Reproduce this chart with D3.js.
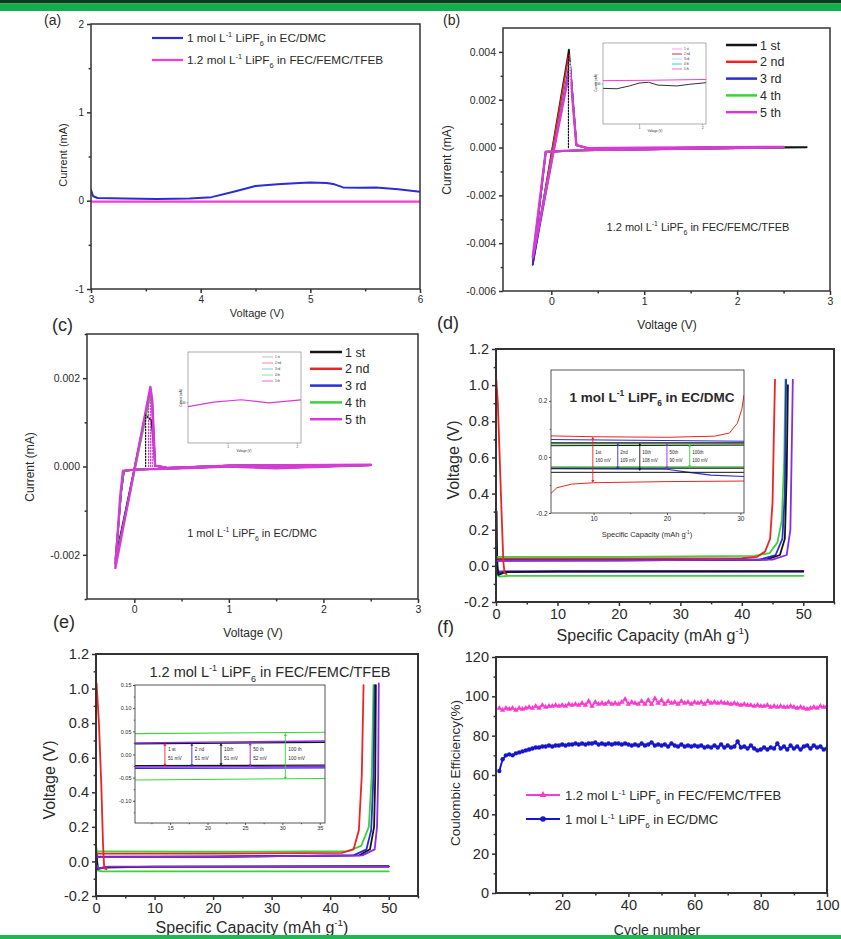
<!DOCTYPE html>
<html><head><meta charset="utf-8">
<script src="https://cdn.jsdelivr.net/npm/d3@7"></script>
<style>
body{margin:0;background:#fff}
svg{display:block}
text{font-family:"Liberation Sans",Arial,sans-serif;fill:#2a2a2a;white-space:pre}
</style>
</head><body>
<svg id="c" width="841" height="939"></svg>
<script>
// ---------------- DATA ----------------
// (a) linear sweep
const aSeriesNames = ["1 mol L^{-1} LiPF_{6} in EC/DMC", "1.2 mol L^{-1} LiPF_{6} in FEC/FEMC/TFEB"];
const aEC = [[3.0,0.12],[3.02,0.05],[3.06,0.03],[3.3,0.025],[3.6,0.02],[3.9,0.025],[4.1,0.04],[4.3,0.1],[4.5,0.165],[4.7,0.185],[4.9,0.2],[5.0,0.205],[5.15,0.2],[5.22,0.185],[5.3,0.15],[5.45,0.145],[5.6,0.15],[5.8,0.13],[6.0,0.1]];
const aFEC = [[3.0,-0.01],[4.5,-0.01],[6.0,-0.01]];

// (b) CV 1.2 M FEC/FEMC/TFEB
const cycleNames = ["1 st","2 nd","3 rd","4 th","5 th"];
const bCycle1 = [[2.75,0.00001],[2.0,-0.00003],[1.0,-0.00008],[0.3,-0.00012],[-0.06,-0.00018],[-0.2,-0.0049],[0.19,0.0041],[0.27,0.0001],[0.4,-0.00004],[1.0,-0.00002],[2.0,0.00001],[2.75,0.00002]];
const bCycle2 = [[2.5,0.00001],[2.0,-0.00003],[1.0,-0.00008],[0.3,-0.00012],[-0.06,-0.00018],[-0.2,-0.0048],[0.19,0.0039],[0.27,0.0001],[0.4,-0.00004],[1.0,-0.00002],[2.5,0.00002]];
const bCycle3 = [[2.5,0.00001],[2.0,-0.00003],[1.0,-0.00008],[0.3,-0.00012],[-0.06,-0.00018],[-0.2,-0.0049],[0.2,0.0036],[0.27,0.0001],[0.4,-0.00004],[1.0,-0.00002],[2.5,0.00002]];
const bCycle4 = [[2.5,0.00001],[2.0,-0.00003],[1.0,-0.00008],[0.3,-0.00012],[-0.06,-0.00018],[-0.2,-0.0046],[0.2,0.0034],[0.27,0.0001],[0.4,-0.00004],[1.0,-0.00002],[2.5,0.00002]];
const bCycle5 = [[2.5,0.00002],[2.0,-0.00002],[1.0,-0.00007],[0.3,-0.00011],[-0.06,-0.00017],[-0.2,-0.0046],[0.2,0.0033],[0.27,0.0001],[0.4,-0.00003],[1.0,-0.00001],[2.5,0.00003]];
const bPeakV = [0.185, 0.2];
const bPeakI = [0.0041, 0.0036];
// (b) inset
const bInsetPink = [[0.43,0.00007],[1.2,0.00008],[2.06,0.0001]];
const bInsetDark = [[0.43,-0.00012],[0.65,-0.00013],[0.85,-0.00006],[1.0,0.00001],[1.15,0.00003],[1.3,-0.00004],[1.6,-0.00006],[1.8,-0.00002],[2.06,0.00002]];

// (c) CV 1 M EC/DMC
const cCycle1 = [[2.5,0.00003],[1.5,-0.00002],[1.0,0.0],[0.5,-0.00004],[0.0,-0.00007],[-0.11,-0.0001],[-0.14,-0.0006],[-0.2,-0.0021],[0.12,0.00117],[0.15,0.0011],[0.18,0.00105],[0.2,0.0006],[0.22,0.00002],[0.35,-0.00003],[1.0,0.00002],[2.5,0.00004]];
const cCycle2 = [[2.5,0.00003],[1.5,-0.00003],[1.0,0.0],[0.5,-0.00004],[0.0,-0.00007],[-0.11,-0.0001],[-0.14,-0.0006],[-0.2,-0.0022],[0.17,0.0017],[0.19,0.0014],[0.22,0.00002],[0.35,-0.00003],[1.0,0.00002],[2.5,0.00004]];
const cCycle3 = [[2.5,0.00003],[1.5,-0.00003],[1.0,0.0],[0.5,-0.00004],[0.0,-0.00007],[-0.11,-0.0001],[-0.14,-0.0006],[-0.2,-0.0022],[0.17,0.00175],[0.19,0.0014],[0.22,0.00002],[0.35,-0.00003],[1.0,0.00002],[2.5,0.00004]];
const cCycle4 = [[2.5,0.00003],[1.5,-0.00003],[1.0,0.0],[0.5,-0.00004],[0.0,-0.00007],[-0.11,-0.0001],[-0.14,-0.0006],[-0.2,-0.0022],[0.17,0.0016],[0.19,0.0013],[0.22,0.00002],[0.35,-0.00003],[1.0,0.00002],[2.5,0.00004]];
const cCycle5 = [[2.5,0.00003],[1.5,-0.00004],[1.0,0.0],[0.5,-0.00004],[0.0,-0.00007],[-0.12,-0.0001],[-0.15,-0.0007],[-0.2,-0.0023],[0.17,0.0018],[0.19,0.0015],[0.22,0.00002],[0.35,-0.00003],[1.0,0.00002],[2.5,0.00004]];
const cPeakV = [0.12, 0.15, 0.17, 0.19];
const cPeakI = [0.00117, 0.0016, 0.0018, 0.0015];
// (c) inset
const cInsetPink = [[0.43,-0.0001],[0.8,0.0],[1.2,0.00005],[1.6,-0.00002],[2.06,0.00005]];

// (d) plating/stripping 1 M EC/DMC (main)
const dRedFirst = [[0.05,1.03],[0.3,0.9],[0.6,0.6],[0.9,0.3],[1.2,0.02],[1.4,-0.04],[1.7,-0.045]];
const dPlateBlack = [[0.1,0.3],[0.2,0.0],[0.4,-0.05],[1.5,-0.035],[10,-0.03],[50,-0.03]];
const dPlateBlue = [[0.1,0.1],[0.3,-0.04],[1.5,-0.033],[50,-0.032]];
const dPlatePurple = [[0.2,-0.03],[50,-0.028]];
const dPlateGreen = [[0,-0.04],[0.5,-0.06],[2,-0.055],[50,-0.055]];
const dStripRed = [[0,0.04],[20,0.04],[40,0.042],[42.5,0.05],[43.8,0.08],[44.6,0.15],[45.0,0.35],[45.2,0.7],[45.4,1.03]];
const dStripGreen = [[0,0.05],[20,0.05],[42,0.055],[44.5,0.07],[45.8,0.13],[46.5,0.25],[46.9,0.6],[47.1,1.03]];
const dStripBlue = [[0,0.03],[20,0.03],[43,0.035],[45.5,0.06],[46.6,0.15],[47.0,0.4],[47.2,1.03]];
const dStripBlack = [[0,0.03],[20,0.03],[44,0.035],[46.2,0.06],[47.0,0.15],[47.3,0.5],[47.5,1.0]];
const dStripPurple = [[0,0.028],[20,0.03],[45,0.035],[47.3,0.06],[47.9,0.2],[48.1,0.6],[48.3,1.03]];
// (d) inset
const dInRedUp = [[4.2,0.075],[10,0.072],[20,0.07],[26.5,0.074],[28.5,0.085],[29.6,0.12],[30.2,0.17],[30.5,0.22]];
const dInRedLow = [[4.2,-0.13],[5,-0.11],[7,-0.097],[10,-0.092],[20,-0.088],[30.5,-0.086]];
const dInBlackUp1 = [[4.2,0.05],[30.5,0.05]];
const dInBlackUp2 = [[4.2,0.04],[30.5,0.042]];
const dInBlueUp = [[4.2,0.062],[30.5,0.056]];
const dInGreenUp = [[4.2,0.046],[30.5,0.046]];
const dInBlackLow1 = [[4.2,-0.04],[30.5,-0.04]];
const dInBlackLow2 = [[4.2,-0.055],[30.5,-0.055]];
const dInBlueLow = [[4.2,-0.042],[20,-0.044],[23,-0.055],[26,-0.065],[30.5,-0.07]];
const dInGreenLow = [[4.2,-0.035],[30.5,-0.035]];
const dArrowCap = [9.9, 13.3, 16.3, 20.0, 23.1];
const dArrowTop = [0.072, 0.05, 0.05, 0.05, 0.046];
const dArrowBot = [-0.092, -0.045, -0.05, -0.045, -0.04];
const dArrowLab1 = ["1st","2nd","10th","50th","100th"];
const dArrowLab2 = ["160 mV","109 mV","108 mV","90 mV","100 mV"];

// (e) plating/stripping 1.2 M FEC/FEMC/TFEB (main)
const eRedFirst = [[0.1,1.03],[0.5,0.8],[0.9,0.45],[1.2,0.1],[1.4,-0.04],[1.8,-0.045]];
const ePlateBlack = [[0,0.05],[0.3,-0.04],[1.5,-0.035],[10,-0.03],[50,-0.028]];
const ePlateBlue = [[0,0.1],[0.3,-0.045],[2,-0.032],[50,-0.03]];
const ePlatePurple = [[0,-0.02],[0.5,-0.04],[2,-0.03],[50,-0.03]];
const ePlateGreen = [[0,-0.05],[1,-0.058],[50,-0.058]];
const eStripRed = [[0,0.045],[20,0.045],[42,0.05],[44,0.07],[44.9,0.18],[45.4,0.5],[45.7,1.02]];
const eStripGreen = [[0,0.058],[20,0.056],[43,0.06],[45.3,0.09],[46.6,0.2],[47.1,0.5],[47.4,1.02]];
const eStripBlue = [[0,0.028],[20,0.028],[44,0.035],[46.2,0.07],[47.0,0.18],[47.4,0.5],[47.6,1.02]];
const eStripBlack = [[0,0.026],[20,0.027],[45,0.035],[46.8,0.07],[47.5,0.2],[47.7,0.5],[47.8,1.02]];
const eStripPurple = [[0,0.025],[20,0.027],[45.5,0.035],[47.6,0.07],[48.0,0.2],[48.2,0.5],[48.3,1.03]];
// (e) inset
const eInGreenUp = [[10.3,0.045],[35.7,0.048]];
const eInGreenLow = [[10.3,-0.055],[35.7,-0.052]];
const eInPurpleUp = [[10.3,0.025],[35.7,0.029]];
const eInBlackUp = [[10.3,0.023],[35.7,0.026]];
const eInPurpleLow = [[10.3,-0.027],[35.7,-0.026]];
const eInBlueLow = [[10.3,-0.03],[35.7,-0.029]];
const eInBlackLow = [[10.3,-0.024],[35.7,-0.023]];
const eArrowCap = [14.3, 17.9, 21.8, 25.7, 30.4];
const eArrowTop = [0.025, 0.025, 0.025, 0.026, 0.046];
const eArrowBot = [-0.026, -0.027, -0.025, -0.027, -0.054];
const eArrowLab1 = ["1 st","2 nd","10th","50 th","100 th"];
const eArrowLab2 = ["51 mV","51 mV","51 mV","52 mV","100 mV"];

// (f) coulombic efficiency
const fCycles = d3.range(1, 101);
const fFEC = [94,93,94,93.5,94,93,94,93.5,94,94.5,94,95,94,95.5,94.5,95,95,95.5,95,95.5,
  95,96,95.5,96,95.5,96.5,95.5,97.5,95,97,96,96.5,96,97,96,96.5,96,97,98.5,96,
  97,96.5,96,97.5,96,98,96,99,96.5,98,96,97.5,96.5,97,96,97.5,96.5,97,96,97,
  96.5,97,96,97.5,96.5,97,96.5,97,96.5,96.5,96,96.5,96,95.5,96,95.5,95.5,95,95.5,95,
  95,95.5,94.5,95,94.5,95,94.5,94.5,95,94.5,94,94.5,94,93.5,94,94.5,94,95,94.5,95];
const fEC = [62,68,70,70.5,70,71,71.5,72,72.5,73,73.5,74,74,74.5,74.5,75,74.5,75,75,75.5,
  75,75.5,75.5,76,75.5,76,75.5,76,76,76.5,75.5,76,75.5,76,75.5,76,76,75.5,76,75.5,
  75,75.5,75,76,75,75.5,76.5,75,75.5,75,75.5,74.5,76,75,74.5,75.5,74.5,75,74.5,75,
  74.5,75,74,74.5,74,75,74,75.5,74,75,74,74.5,77,74,74.5,73.5,75,73.5,72.5,73,
  74,73,74,73.5,76,73.5,74.5,73,75,73.5,74.5,73,74.5,75,73.5,75,74,74.5,73,73.5];

// ---------------- COLOURS ----------------
const cBlack="#151515", cRed="#ec2424", cBlue="#2b2bd8", cGreen="#3ad43a", cMag="#d63bd6", cPurple="#8b2be8", cPink="#ff38d2", cBlueF="#1616cc";
const cycleColors=[cBlack,cRed,cBlue,cGreen,cMag];

// ---------------- HELPERS ----------------
const svg=d3.select('#c');
const defs=svg.append('defs');
let clipN=0;
const fmtInt=d=>String(d);
function rich(sel,str,fs){
  const parts=str.split(/(\^\{[^}]*\}|_\{[^}]*\})/).filter(s=>s.length);
  let off=0;
  parts.forEach(s=>{
    let type='n',txt=s;
    if(s.startsWith('^{')){type='sup';txt=s.slice(2,-1);}
    else if(s.startsWith('_{')){type='sub';txt=s.slice(2,-1);}
    const target=type==='sup'?-fs*0.42:type==='sub'?fs*0.32:0;
    const t=sel.append('tspan').text(txt).attr('dy',(target-off).toFixed(2));
    if(type!=='n') t.attr('font-size',(fs*0.62).toFixed(2));
    off=target;
  });
  return sel;
}
function label(x,y,str,fs,opt={}){
  const t=svg.append('text').attr('x',x).attr('y',y).attr('font-size',fs)
    .attr('text-anchor',opt.anchor||'start');
  if(opt.rot) t.attr('transform',`rotate(-90,${x},${y})`);
  if(opt.weight) t.attr('font-weight',opt.weight);
  if(opt.fill) t.attr('fill',opt.fill);
  rich(t,str,fs);
  return t;
}
function panel(o){
  const x=d3.scaleLinear().domain(o.xd).range([o.x0,o.x1]);
  const y=d3.scaleLinear().domain(o.yd).range([o.y1,o.y0]);
  const g=svg.append('g');
  if(o.bg) g.append('rect').attr('x',o.x0).attr('y',o.y0).attr('width',o.x1-o.x0).attr('height',o.y1-o.y0).attr('fill','#fff');
  const id='clip'+(clipN++);
  defs.append('clipPath').attr('id',id).append('rect').attr('x',o.x0).attr('y',o.y0).attr('width',o.x1-o.x0).attr('height',o.y1-o.y0);
  const plot=g.append('g').attr('clip-path',`url(#${id})`);
  const ax=g.append('g');
  const ts=o.ts||4, sw=o.sw||1.5, fs=o.fs||11, col=o.col||'#333';
  function style(a){
    a.select('.domain').remove();
    a.selectAll('line').attr('stroke',col).attr('stroke-width',sw);
    a.selectAll('text').attr('font-size',fs).attr('fill','#2a2a2a').style('font-family','"Liberation Sans",Arial,sans-serif');
  }
  if(o.xt) style(ax.append('g').attr('transform',`translate(0,${o.y1})`).call(d3.axisBottom(x).tickValues(o.xt).tickFormat(o.xf||fmtInt).tickSize(ts).tickSizeOuter(0).tickPadding(o.tp||3)));
  if(o.xm) style(ax.append('g').attr('transform',`translate(0,${o.y1})`).call(d3.axisBottom(x).tickValues(o.xm).tickFormat(()=>'').tickSize(ts*0.6).tickSizeOuter(0)));
  if(o.yt) style(ax.append('g').attr('transform',`translate(${o.x0},0)`).call(d3.axisLeft(y).tickValues(o.yt).tickFormat(o.yf||fmtInt).tickSize(ts).tickSizeOuter(0).tickPadding(o.tp||3)));
  if(o.ym) style(ax.append('g').attr('transform',`translate(${o.x0},0)`).call(d3.axisLeft(y).tickValues(o.ym).tickFormat(()=>'').tickSize(ts*0.6).tickSizeOuter(0)));
  g.append('rect').attr('x',o.x0).attr('y',o.y0).attr('width',o.x1-o.x0).attr('height',o.y1-o.y0)
    .attr('fill','none').attr('stroke',col).attr('stroke-width',o.fw||sw);
  return {x,y,plot,g};
}
function drawLine(P,data,color,w,dash){
  const line=d3.line().x(d=>P.x(d[0])).y(d=>P.y(d[1]));
  const p=P.plot.append('path').datum(data).attr('d',line).attr('fill','none')
    .attr('stroke',color).attr('stroke-width',w||1.5).attr('stroke-linejoin','round').attr('stroke-linecap','round');
  if(dash) p.attr('stroke-dasharray',dash);
  return p;
}
function arrow(P,xv,y1v,y2v,color){
  const X=P.x(xv), A=P.y(y1v), B=P.y(y2v), h=2.2;
  P.g.append('line').attr('x1',X).attr('x2',X).attr('y1',A+h).attr('y2',B-h).attr('stroke',color).attr('stroke-width',0.9);
  P.g.append('path').attr('d',`M${X},${A}l-1.6,${h+0.6}h3.2z`).attr('fill',color);
  P.g.append('path').attr('d',`M${X},${B}l-1.6,${-h-0.6}h3.2z`).attr('fill',color);
}
const f3=d=>d.toFixed(3), f1=d=>d.toFixed(1), f2=d=>d.toFixed(2);

// ---------------- PANEL (a) ----------------
{
  const P=panel({x0:91,x1:420,y0:24,y1:289,xd:[3,6],yd:[-1,2],xt:[3,4,5,6],xm:[3.5,4.5,5.5],yt:[-1,0,1,2],ym:[-0.5,0.5,1.5],fs:10,ts:4});
  drawLine(P,aFEC,cPink,2.2);
  drawLine(P,aEC,cBlue,2);
  [cBlue,cPink].forEach((c,i)=>{
    svg.append('line').attr('x1',152).attr('x2',183).attr('y1',38+i*22).attr('y2',38+i*22).attr('stroke',c).attr('stroke-width',2.2);
    label(187,42+i*22,aSeriesNames[i],11.8);
  });
  label(257,317,"Voltage (V)",11,{anchor:'middle'});
  label(67,155,"Current (mA)",11,{anchor:'middle',rot:true});
}

// ---------------- PANEL (b) ----------------
{
  const P=panel({x0:503,x1:830,y0:28,y1:291,xd:[-0.52,3],yd:[-0.006,0.005],xt:[0,1,2,3],xm:[0.5,1.5,2.5],
    yt:[-0.006,-0.004,-0.002,0,0.002,0.004],ym:[-0.005,-0.003,-0.001,0.001,0.003],yf:f3,fs:10.5,ts:4});
  [bCycle1,bCycle2,bCycle3,bCycle4,bCycle5].forEach((d,i)=>drawLine(P,d,cycleColors[i],i===4?2.4:1.7));
  bPeakV.forEach((v,i)=>drawLine(P,[[v,0],[v,bPeakI[i]]],i===0?cBlack:'#fff',1.3,'1.5,1.5'));
  cycleNames.forEach((n,i)=>{
    const yy=45+i*16.8;
    svg.append('line').attr('x1',726).attr('x2',757).attr('y1',yy).attr('y2',yy).attr('stroke',cycleColors[i]).attr('stroke-width',2.5);
    label(760,yy+4.5,n,12.5);
  });
  label(698,231,"1.2 mol L^{-1} LiPF_{6} in FEC/FEMC/TFEB",11,{anchor:'middle'});
  label(667,329,"Voltage (V)",12,{anchor:'middle'});
  label(451,160,"Current (mA)",12,{anchor:'middle',rot:true});
  // inset
  const I=panel({x0:603,x1:706,y0:43,y1:124,xd:[0.43,2.06],yd:[-0.001,0.001],xt:[1,2],yt:[0],yf:f2,fs:3,ts:1.5,sw:0.6,col:'#777',tp:1,bg:true});
  drawLine(I,bInsetDark,'#333',1);
  drawLine(I,bInsetPink,cPink,1);
  ["#ff8cd8","#8a1030","#9ad0ff","#00c8c8","#ff40c0"].forEach((c,i)=>{
    const yy=49+i*5;
    svg.append('line').attr('x1',672).attr('x2',682).attr('y1',yy).attr('y2',yy).attr('stroke',c).attr('stroke-width',0.8);
    label(684,yy+1,cycleNames[i],3);
  });
  label(655,132,"Voltage (V)",3,{anchor:'middle'});
  label(597,83,"Current (mA)",3,{anchor:'middle',rot:true});
}

// ---------------- PANEL (c) ----------------
{
  const P=panel({x0:87,x1:418,y0:334,y1:599,xd:[-0.5,3],yd:[-0.003,0.003],xt:[0,1,2,3],xm:[0.5,1.5,2.5],
    yt:[-0.002,0,0.002],ym:[-0.003,-0.001,0.001,0.003],yf:f3,fs:10.5,ts:4});
  [cCycle1,cCycle2,cCycle3,cCycle4,cCycle5].forEach((d,i)=>drawLine(P,d,cycleColors[i],i===4?2.4:1.7));
  cPeakV.forEach((v,i)=>drawLine(P,[[v,0],[v,cPeakI[i]]],i===0?cBlack:cMag,1.2,'1.5,1.5'));
  cycleNames.forEach((n,i)=>{
    const yy=352+i*16.8;
    svg.append('line').attr('x1',310).attr('x2',342).attr('y1',yy).attr('y2',yy).attr('stroke',cycleColors[i]).attr('stroke-width',2.5);
    label(345,yy+4.5,n,12.5);
  });
  label(252,537,"1 mol L^{-1} LiPF_{6} in EC/DMC",11,{anchor:'middle'});
  label(253,637,"Voltage (V)",12,{anchor:'middle'});
  label(34,467,"Current (mA)",12,{anchor:'middle',rot:true});
  // inset
  const I=panel({x0:188,x1:301,y0:352,y1:443,xd:[0.43,2.06],yd:[-0.0009,0.0011],xt:[1,2],yt:[0],yf:f2,fs:3,ts:1.5,sw:0.6,col:'#777',tp:1,bg:true});
  drawLine(I,cInsetPink,cMag,1.2);
  ["#b0b0b0","#ff60a0","#60c0c0","#70e070","#e040e0"].forEach((c,i)=>{
    const yy=357+i*6;
    svg.append('line').attr('x1',262).attr('x2',273).attr('y1',yy).attr('y2',yy).attr('stroke',c).attr('stroke-width',0.8);
    label(275,yy+1,cycleNames[i],3);
  });
  label(244,452,"Voltage (V)",3,{anchor:'middle'});
  label(182,398,"Current (mA)",3,{anchor:'middle',rot:true});
}

// ---------------- PANEL (d) ----------------
{
  const P=panel({x0:496,x1:834,y0:349,y1:602,xd:[0,55],yd:[-0.2,1.2],xt:[0,10,20,30,40,50],xm:[5,15,25,35,45,55],
    yt:[-0.2,0,0.2,0.4,0.6,0.8,1.0,1.2],ym:[-0.1,0.1,0.3,0.5,0.7,0.9,1.1],yf:f1,fs:14.5,ts:4,tp:3,fw:2});
  drawLine(P,dPlateGreen,cGreen,1.8);
  drawLine(P,dPlatePurple,cPurple,1.8);
  drawLine(P,dPlateBlue,cBlue,1.8);
  drawLine(P,dPlateBlack,cBlack,1.8);
  drawLine(P,dStripGreen,cGreen,1.8);
  drawLine(P,dStripRed,cRed,1.8);
  drawLine(P,dStripBlue,cBlue,1.8);
  drawLine(P,dStripBlack,cBlack,1.8);
  drawLine(P,dStripPurple,cPurple,1.8);
  drawLine(P,dRedFirst,cRed,1.8);
  label(653,641,"Specific Capacity (mAh g^{-1})",16,{anchor:'middle'});
  label(459,460,"Voltage (V)",16,{anchor:'middle',rot:true});
  // inset
  const I=panel({x0:551,x1:744,y0:370,y1:513,xd:[4.2,30.5],yd:[-0.2,0.31],xt:[10,20,30],xm:[15,25],yt:[-0.2,0,0.2],ym:[-0.1,0.1],yf:f1,fs:6.5,ts:2,sw:0.9,col:'#444',tp:1.5,bg:true});
  drawLine(I,dInRedUp,cRed,1);
  drawLine(I,dInRedLow,cRed,1);
  drawLine(I,dInGreenUp,cGreen,1);
  drawLine(I,dInGreenLow,cGreen,1);
  drawLine(I,dInBlueUp,cBlue,1);
  drawLine(I,dInBlackUp1,cBlack,1.3);
  drawLine(I,dInBlackUp2,cBlack,1);
  drawLine(I,dInBlueLow,cBlue,1.1);
  drawLine(I,dInBlackLow1,cBlack,1.3);
  drawLine(I,dInBlackLow2,cBlack,1);
  const dArrowCol=[cRed,cBlue,cBlack,cPurple,cGreen];
  dArrowCap.forEach((c,i)=>{
    arrow(I,c,dArrowTop[i],dArrowBot[i],dArrowCol[i]);
    const X=I.x(c)+2.5;
    label(X,454,dArrowLab1[i],4.5,{fill:dArrowCol[i]});
    label(X,462,dArrowLab2[i],4.5,{fill:dArrowCol[i]});
  });
  label(652,402,"1 mol L^{-1} LiPF_{6} in EC/DMC",13.5,{anchor:'middle',weight:'bold',fill:'#1a1a1a'});
  label(647,537,"Specific Capacity (mAh g^{-1})",7.5,{anchor:'middle'});
}

// ---------------- PANEL (e) ----------------
{
  const P=panel({x0:96,x1:418,y0:654,y1:896,xd:[0,55],yd:[-0.2,1.2],xt:[0,10,20,30,40,50],xm:[5,15,25,35,45,55],
    yt:[-0.2,0,0.2,0.4,0.6,0.8,1.0,1.2],ym:[-0.1,0.1,0.3,0.5,0.7,0.9,1.1],yf:f1,fs:14.5,ts:4,tp:3,fw:2});
  drawLine(P,ePlateGreen,cGreen,1.8);
  drawLine(P,ePlateBlue,cBlue,1.8);
  drawLine(P,ePlateBlack,cBlack,1.8);
  drawLine(P,ePlatePurple,cPurple,1.8);
  drawLine(P,eStripGreen,cGreen,1.8);
  drawLine(P,eStripRed,cRed,1.8);
  drawLine(P,eStripBlue,cBlue,1.8);
  drawLine(P,eStripBlack,cBlack,1.8);
  drawLine(P,eStripPurple,cPurple,1.8);
  drawLine(P,eRedFirst,cRed,1.8);
  label(270,677,"1.2 mol L^{-1} LiPF_{6} in FEC/FEMC/TFEB",14.5,{anchor:'middle',fill:'#1a1a1a'});
  label(252,933,"Specific Capacity (mAh g^{-1})",16,{anchor:'middle'});
  label(55,780,"Voltage (V)",16,{anchor:'middle',rot:true});
  // inset
  const I=panel({x0:135,x1:325,y0:685,y1:823,xd:[10.3,35.7],yd:[-0.148,0.15],xt:[15,20,25,30,35],xm:[12.5,17.5,22.5,27.5,32.5],
    yt:[-0.1,-0.05,0,0.05,0.1,0.15],ym:[-0.125,-0.075,-0.025,0.025,0.075,0.125],yf:f2,fs:5.5,ts:2,sw:0.9,col:'#444',tp:1.5,bg:true});
  drawLine(I,eInGreenUp,cGreen,1.1);
  drawLine(I,eInGreenLow,cGreen,1.1);
  drawLine(I,eInBlackUp,cBlack,1.2);
  drawLine(I,eInPurpleUp,cPurple,1.4);
  drawLine(I,eInBlackLow,cBlack,1.2);
  drawLine(I,eInBlueLow,cBlue,1.2);
  drawLine(I,eInPurpleLow,cPurple,1.4);
  const eArrowCol=[cRed,cBlue,cBlack,cPurple,cGreen];
  eArrowCap.forEach((c,i)=>{
    arrow(I,c,eArrowTop[i],eArrowBot[i],eArrowCol[i]);
    const X=I.x(c)+3;
    label(X,751,eArrowLab1[i],4.8,{fill:eArrowCol[i]});
    label(X,760,eArrowLab2[i],4.8,{fill:eArrowCol[i]});
  });
}

// ---------------- PANEL (f) ----------------
{
  const P=panel({x0:496,x1:827,y0:657,y1:893,xd:[0,100],yd:[0,120],xt:[20,40,60,80,100],xm:[10,30,50,70,90],
    yt:[0,20,40,60,80,100,120],ym:[10,30,50,70,90,110],fs:14.5,ts:4,tp:3,fw:2});
  const ecPts=fCycles.map((c,i)=>[c,fEC[i]]);
  const fecPts=fCycles.map((c,i)=>[c,fFEC[i]]);
  drawLine(P,fecPts,cPink,1.6);
  drawLine(P,ecPts,cBlueF,1.9);
  const tri=d3.symbol().type(d3.symbolTriangle).size(13);
  P.plot.selectAll('.tri').data(fecPts).enter().append('path').attr('d',tri)
    .attr('transform',d=>`translate(${P.x(d[0])},${P.y(d[1])})`).attr('fill',cPink);
  P.plot.selectAll('.cir').data(ecPts).enter().append('circle')
    .attr('cx',d=>P.x(d[0])).attr('cy',d=>P.y(d[1])).attr('r',2.2).attr('fill',cBlueF);
  const legY=[795,819];
  [cPink,cBlueF].forEach((c,i)=>{
    svg.append('line').attr('x1',526).attr('x2',560).attr('y1',legY[i]).attr('y2',legY[i]).attr('stroke',c).attr('stroke-width',1.8);
    if(i===0) svg.append('path').attr('d',d3.symbol().type(d3.symbolTriangle).size(20)).attr('transform',`translate(543,${legY[i]})`).attr('fill',c);
    else svg.append('circle').attr('cx',543).attr('cy',legY[i]).attr('r',2.8).attr('fill',c);
  });
  label(565,800,"1.2 mol L^{-1} LiPF_{6} in FEC/FEMC/TFEB",13);
  label(565,824,"1 mol L^{-1} LiPF_{6} in EC/DMC",13);
  label(657,935,"Cycle number",14,{anchor:'middle'});
  label(460,773,"Coulombic Efficiency(%)",13.5,{anchor:'middle',rot:true});
}

// ---------------- FRAME BANDS ----------------
svg.append('rect').attr('x',0).attr('y',0).attr('width',841).attr('height',3.5).attr('fill','#0b3a1c');
svg.append('rect').attr('x',0).attr('y',3.5).attr('width',841).attr('height',7.5).attr('fill','#12ad4c');
svg.append('rect').attr('x',0).attr('y',935).attr('width',841).attr('height',4).attr('fill','#1cb850');

// ---------------- PANEL LETTERS ----------------
[["(a)",44,25,14],["(b)",443,25,14],["(c)",52,331,18],["(d)",437,329,18],["(e)",53,628,18],["(f)",437,633,18]].forEach(d=>{
  svg.append('text').attr('x',d[1]).attr('y',d[2]).attr('font-size',d[3]).attr('fill','#222').text(d[0]);
});
</script>
</body></html>
